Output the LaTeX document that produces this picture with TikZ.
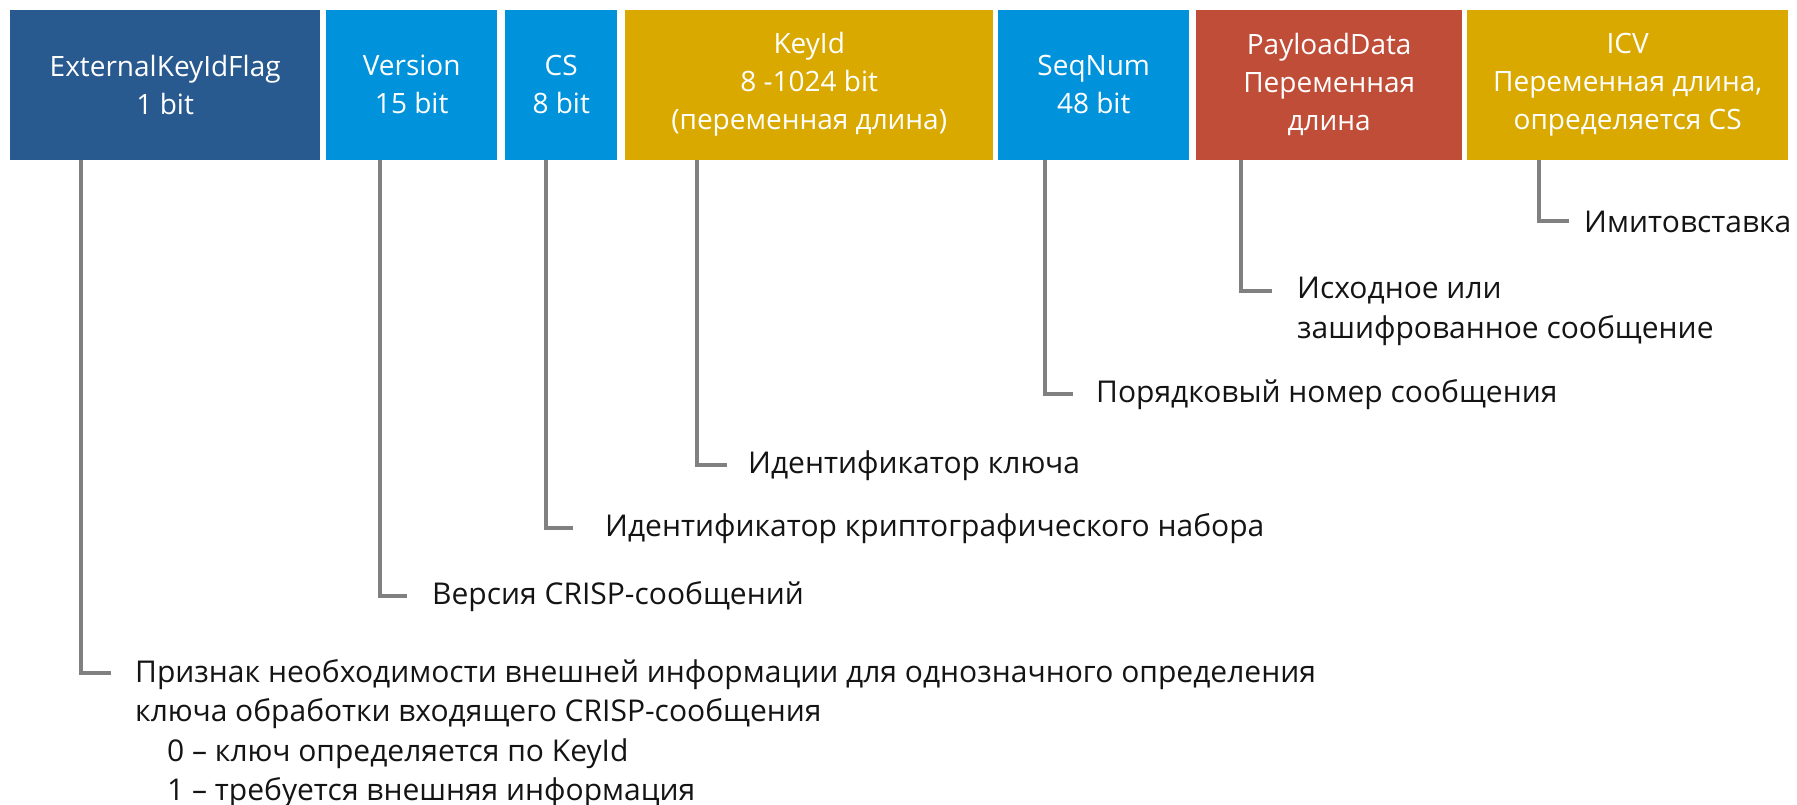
\documentclass[tikz,border=0pt]{standalone}
\usepackage{fontspec}
\setmainfont{Open Sans}
\definecolor{cDark}{RGB}{41,90,143}
\definecolor{cBlue}{RGB}{0,146,219}
\definecolor{cGold}{RGB}{217,169,0}
\definecolor{cRed}{RGB}{192,77,56}
\definecolor{cLine}{RGB}{128,128,128}
\definecolor{cText}{RGB}{20,20,20}
\tikzset{
  field/.style={anchor=north west, inner sep=0pt, minimum height=150pt, text=white, align=center,
    font=\fontsize{28}{38}\selectfont},
  lbl/.style={anchor=west, inner sep=0pt, text=cText, align=left, font=\fontsize{30}{39.5}\selectfont},
  lblm/.style={anchor=north west, inner sep=0pt, text=cText, align=left, font=\fontsize{30}{39.5}\selectfont},
  conn/.style={draw=cLine, line width=3.2pt}
}
\begin{document}
\begin{tikzpicture}[x=1pt,y=-1pt]
\useasboundingbox (0,0) rectangle (1797,805);
% fields
\node[field, fill=cDark, minimum width=310pt] (b1) at (10,9.5) {ExternalKeyIdFlag\\1 bit};
\node[field, fill=cBlue, minimum width=171pt] (b2) at (326,9.5) {Version\\15 bit};
\node[field, fill=cBlue, minimum width=112pt] (b3) at (505,9.5) {CS\\8 bit};
\node[field, fill=cGold, minimum width=368pt] (b4) at (625,9.5) {KeyId\\8 -1024 bit\\(переменная длина)};
\node[field, fill=cBlue, minimum width=191pt] (b5) at (998,9.5) {SeqNum\\48 bit};
\node[field, fill=cRed, minimum width=266pt] (b6) at (1196,9.5) {PayloadData\\Переменная\\длина};
\node[field, fill=cGold, minimum width=321pt] (b7) at (1467,9.5) {ICV\\Переменная длина,\\определяется CS};
% connector ends
\coordinate (c1) at (111,673);
\coordinate (c2) at (407,596);
\coordinate (c3) at (573,528);
\coordinate (c4) at (727,465);
\coordinate (c5) at (1073,394);
\coordinate (c6) at (1272,291);
\coordinate (c7) at (1569,221);
% labels
\node[lblm] (l1) at (135,659) {Признак необходимости внешней информации для однозначного определения\\
ключа обработки входящего CRISP-сообщения\\
\hspace*{32pt}0 – ключ определяется по KeyId\\
\hspace*{32pt}1 – требуется внешняя информация};
\node[lbl] (l2) at (432,597) {Версия CRISP-сообщений};
\node[lbl] (l3) at (605,529) {Идентификатор криптографического набора};
\node[lbl] (l4) at (748,466) {Идентификатор ключа};
\node[lbl] (l5) at (1096,395) {Порядковый номер сообщения};
\node[lblm] (l6) at (1297,277) {Исходное или\\зашифрованное сообщение};
\node[lbl] (l7) at (1584,222) {Имитовставка};
% connectors
\draw[conn] ([xshift=71pt]b1.south west) |- (c1);
\draw[conn] ([xshift=54pt]b2.south west) |- (c2);
\draw[conn] ([xshift=41pt]b3.south west) |- (c3);
\draw[conn] ([xshift=72pt]b4.south west) |- (c4);
\draw[conn] ([xshift=47pt]b5.south west) |- (c5);
\draw[conn] ([xshift=45pt]b6.south west) |- (c6);
\draw[conn] ([xshift=72pt]b7.south west) |- (c7);
\end{tikzpicture}
\end{document}
